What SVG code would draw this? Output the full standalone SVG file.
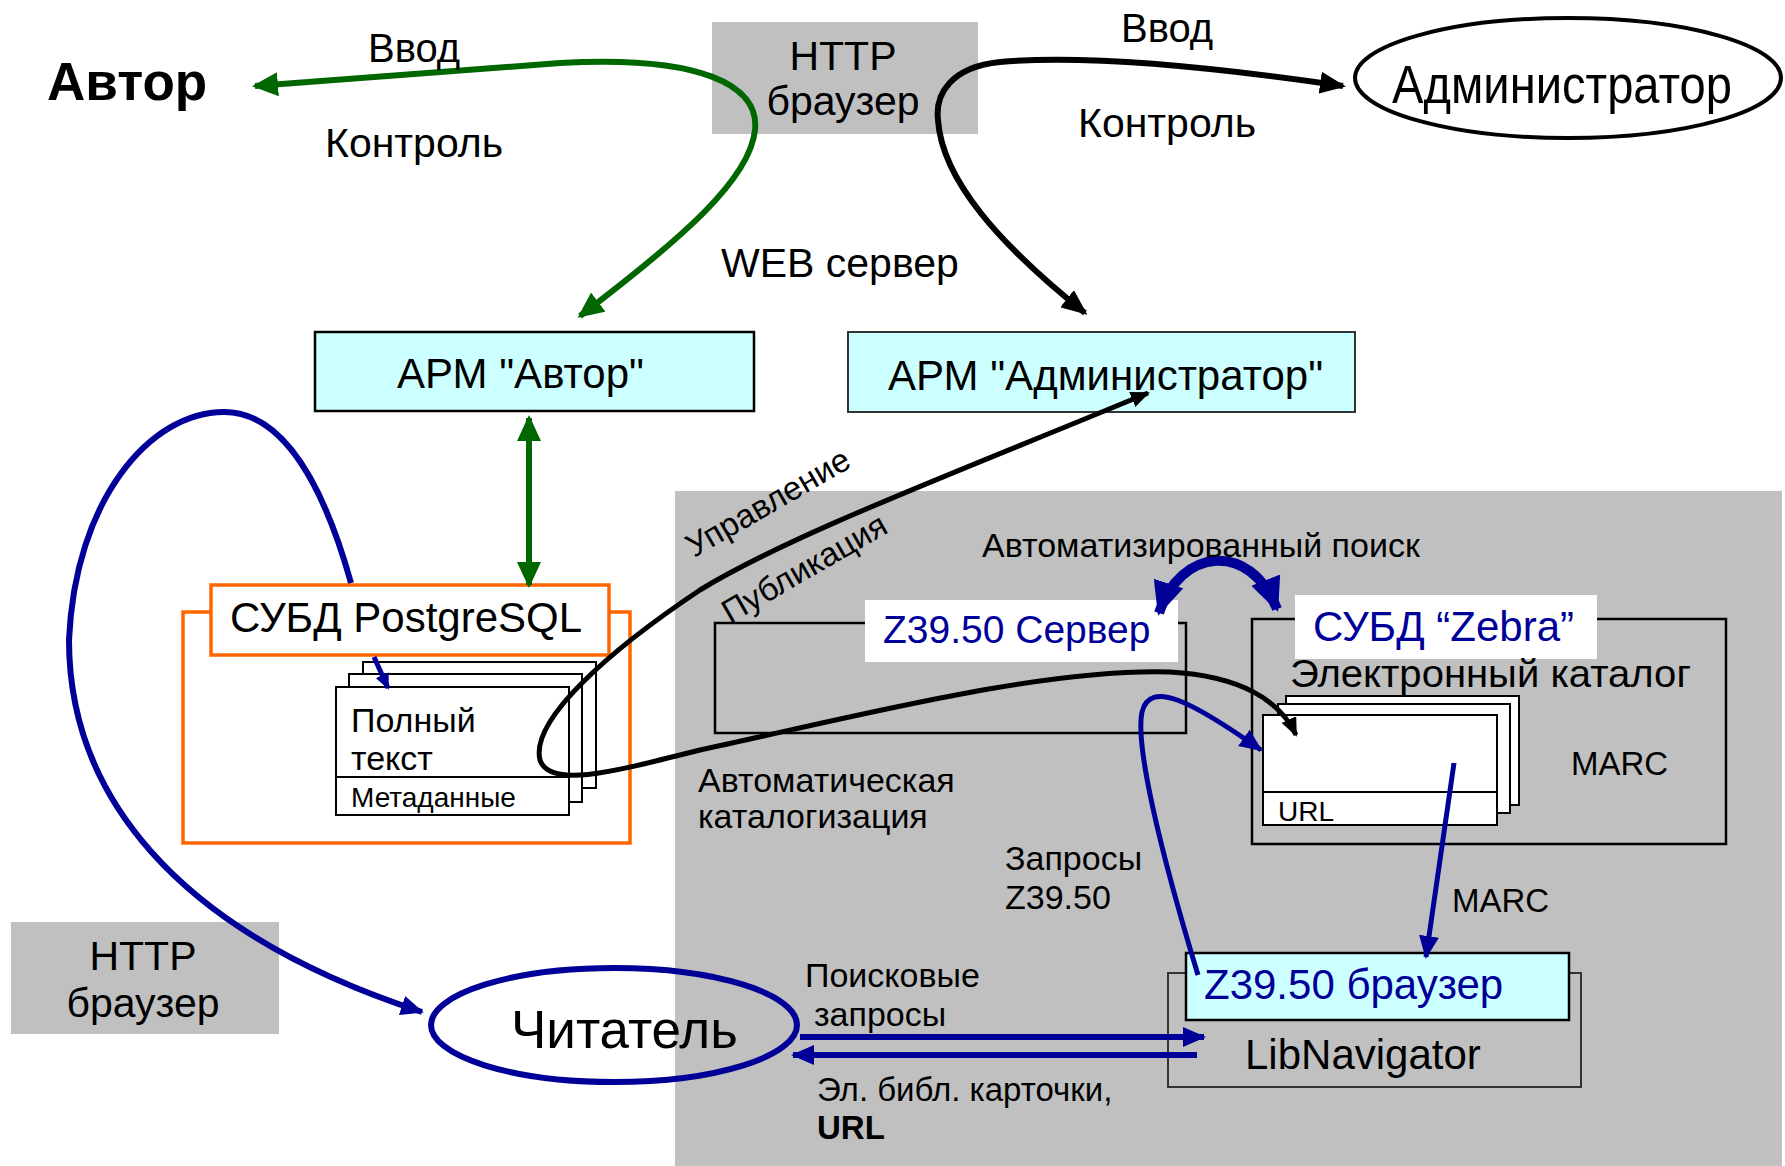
<svg xmlns="http://www.w3.org/2000/svg" width="1785" height="1166" viewBox="0 0 1785 1166">
<style>
text{font-family:'Liberation Sans',Arial,Helvetica,sans-serif;fill:#000}
.blue{fill:#000099}
.gray{fill:#c0c0c0}
.cyan{fill:#ccffff;stroke:#000;stroke-width:2.5}
.page{fill:#fff;stroke:#000;stroke-width:2}
.frame{fill:none;stroke:#000;stroke-width:2.5}
.orange{stroke:#ff6600;stroke-width:3.5}
.c{fill:none}
</style>
<defs>
<marker id="aG" markerUnits="userSpaceOnUse" markerWidth="26" markerHeight="24" refX="23" refY="12" orient="auto-start-reverse"><path d="M0,0 L26,12 L0,24 z" fill="#006600"/></marker>
<marker id="aK" markerUnits="userSpaceOnUse" markerWidth="26" markerHeight="22" refX="23" refY="11" orient="auto-start-reverse"><path d="M0,0 L26,11 L0,22 z" fill="#000"/></marker>
<marker id="aKs" markerUnits="userSpaceOnUse" markerWidth="19" markerHeight="16" refX="17" refY="8" orient="auto-start-reverse"><path d="M0,0 L19,8 L0,16 z" fill="#000"/></marker>
<marker id="aB" markerUnits="userSpaceOnUse" markerWidth="23" markerHeight="20" refX="21" refY="10" orient="auto-start-reverse"><path d="M0,0 L23,10 L0,20 z" fill="#000099"/></marker>
<marker id="aBs" markerUnits="userSpaceOnUse" markerWidth="16" markerHeight="14" refX="14" refY="7" orient="auto-start-reverse"><path d="M0,0 L16,7 L0,14 z" fill="#000099"/></marker>
<marker id="aBb" markerUnits="userSpaceOnUse" markerWidth="34" markerHeight="31" refX="31" refY="15.5" orient="auto-start-reverse"><path d="M0,0 L34,15.5 L0,31 z" fill="#000099"/></marker>
</defs>

<rect id="region" x="675" y="491" width="1107" height="675" class="gray"/>

<g id="http-top">
<rect x="712" y="22" width="266" height="112" class="gray"/>
<text x="843" y="70" font-size="41" text-anchor="middle">HTTP</text>
<text x="843" y="115" font-size="41" text-anchor="middle">браузер</text>
</g>

<g id="author">
<text x="47" y="100" font-size="53" font-weight="bold">Автор</text>
</g>

<g id="administrator">
<ellipse cx="1568" cy="78" rx="213" ry="60" fill="none" stroke="#000" stroke-width="4"/>
<text x="1392" y="103" font-size="53" textLength="340" lengthAdjust="spacingAndGlyphs">Администратор</text>
</g>

<g id="web-server">
<text x="721" y="277" font-size="41">WEB сервер</text>
</g>

<g id="apm-author">
<rect x="315" y="332" width="439" height="79" class="cyan"/>
<text x="397" y="388" font-size="42">АРМ "Автор"</text>
</g>

<g id="apm-admin">
<rect x="848" y="332" width="507" height="80" fill="#ccffff" stroke="#333" stroke-width="2"/>
<text x="888" y="390" font-size="42">АРМ "Администратор"</text>
</g>

<g id="postgres">
<rect x="183" y="612" width="447" height="231" fill="none" class="orange"/>
<rect x="363" y="662" width="233" height="126" class="page"/>
<rect x="349" y="674" width="233" height="128" class="page"/>
<rect x="336" y="687" width="233" height="128" class="page"/>
<line x1="336" y1="777" x2="569" y2="777" stroke="#000" stroke-width="2"/>
<text x="351" y="732" font-size="34">Полный</text>
<text x="351" y="770" font-size="34">текст</text>
<text x="351" y="807" font-size="28">Метаданные</text>
<rect x="211" y="585" width="398" height="70" fill="#fff" class="orange"/>
<text x="230" y="632" font-size="42">СУБД PostgreSQL</text>
</g>

<g id="z3950-server">
<rect x="715" y="623" width="471" height="110" class="frame"/>
<rect x="865" y="600" width="313" height="62" fill="#fff"/>
<text x="883" y="643" font-size="39" class="blue">Z39.50 Сервер</text>
</g>

<g id="zebra">
<rect x="1252" y="619" width="474" height="225" class="frame"/>
<rect x="1295" y="595" width="302" height="64" fill="#fff"/>
<text x="1313" y="641" font-size="42" class="blue">СУБД “Zebra”</text>
<text x="1290" y="687" font-size="39" textLength="401" lengthAdjust="spacingAndGlyphs">Электронный каталог</text>
<rect x="1286" y="696" width="233" height="109" class="page"/>
<rect x="1278" y="704" width="232" height="109" class="page"/>
<rect x="1263" y="715" width="234" height="110" class="page"/>
<line x1="1263" y1="792" x2="1497" y2="792" stroke="#000" stroke-width="2"/>
<text x="1278" y="821" font-size="28">URL</text>
<text x="1571" y="775" font-size="33">MARC</text>
</g>

<g id="libnavigator">
<rect x="1168" y="973" width="413" height="114" fill="none" stroke="#333" stroke-width="2"/>
<rect x="1186" y="953" width="383" height="67" class="cyan"/>
<text x="1204" y="999" font-size="42" class="blue">Z39.50 браузер</text>
<text x="1245" y="1069" font-size="42">LibNavigator</text>
</g>

<g id="reader">
<ellipse cx="614" cy="1025" rx="183" ry="57" fill="none" stroke="#000099" stroke-width="6"/>
<text x="511" y="1048" font-size="53">Читатель</text>
</g>

<g id="http-bottom">
<rect x="11" y="922" width="268" height="112" class="gray"/>
<text x="143" y="970" font-size="41" text-anchor="middle">HTTP</text>
<text x="143" y="1017" font-size="41" text-anchor="middle">браузер</text>
</g>

<g id="connectors">
<path class="c" d="M255,86 L560,63 C700,55 760,85 755,130 C750,180 680,240 580,316" stroke="#006600" stroke-width="6" marker-start="url(#aG)" marker-end="url(#aG)"/>
<path class="c" d="M529,418 L529,585" stroke="#006600" stroke-width="6" marker-start="url(#aG)" marker-end="url(#aG)"/>
<path class="c" d="M1085,313 C1000,245 942,180 938,120 C935,95 950,67 1000,62 C1080,55 1200,65 1343,86" stroke="#000" stroke-width="6" marker-start="url(#aK)" marker-end="url(#aK)"/>
<path class="c" d="M1148,393 C950,475 790,535 700,590 C610,650 530,720 540,760 C550,790 620,770 700,750 C850,718 1040,668 1170,672 C1240,676 1280,700 1296,735" stroke="#000" stroke-width="5" marker-start="url(#aKs)" marker-end="url(#aKs)"/>
<path class="c" d="M351,583 C325,490 285,412 224,412 C150,412 75,500 69,640 C69,790 170,930 422,1012" stroke="#000099" stroke-width="6" marker-end="url(#aB)"/>
<path class="c" d="M374,657 L388,688" stroke="#000099" stroke-width="5" marker-end="url(#aBs)"/>
<path class="c" d="M1198,975 C1160,850 1135,745 1142,712 C1150,680 1190,700 1261,750" stroke="#000099" stroke-width="5" marker-end="url(#aB)"/>
<path class="c" d="M1454,763 L1426,957" stroke="#000099" stroke-width="5" marker-end="url(#aB)"/>
<path class="c" d="M800,1037 L1204,1037" stroke="#000099" stroke-width="6" marker-end="url(#aB)"/>
<path class="c" d="M1197,1055 L793,1055" stroke="#000099" stroke-width="6" marker-end="url(#aB)"/>
<path class="c" d="M1159,613 C1180,548 1250,540 1277,609" stroke="#000099" stroke-width="10" marker-start="url(#aBb)" marker-end="url(#aBb)"/>
</g>

<g id="labels">
<text x="368" y="62" font-size="40">Ввод</text>
<text x="325" y="157" font-size="41">Контроль</text>
<text x="1121" y="42" font-size="40">Ввод</text>
<text x="1078" y="137" font-size="41">Контроль</text>
<text transform="translate(694,558) rotate(-30)" font-size="33">Управление</text>
<text transform="translate(730,624) rotate(-30)" font-size="33">Публикация</text>
<text x="982" y="557" font-size="34">Автоматизированный поиск</text>
<text x="698" y="792" font-size="34">Автоматическая</text>
<text x="698" y="828" font-size="34">каталогизация</text>
<text x="1005" y="870" font-size="34">Запросы</text>
<text x="1005" y="909" font-size="34">Z39.50</text>
<text x="1452" y="912" font-size="33">MARC</text>
<text x="805" y="987" font-size="34">Поисковые</text>
<text x="814" y="1026" font-size="34">запросы</text>
<text x="817" y="1101" font-size="33">Эл. библ. карточки,</text>
<text x="817" y="1139" font-size="33" font-weight="bold">URL</text>
</g>
</svg>
